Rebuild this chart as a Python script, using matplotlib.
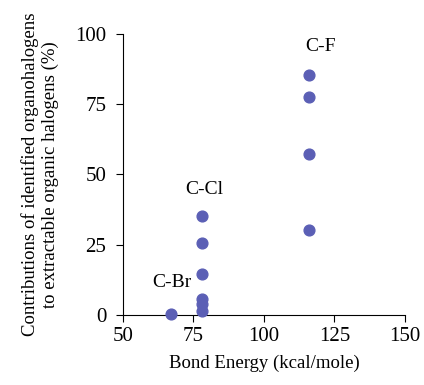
import matplotlib.pyplot as plt

plt.rcParams['font.family'] = ['Liberation Serif', 'DejaVu Serif']

# bond energies (kcal/mole) and contributions (%)
br_x = [67]
br_y = [0.3]
cl_x = [78, 78, 78, 78, 78, 78]
cl_y = [35.2, 25.6, 14.6, 5.6, 3.9, 1.4]
f_x = [116, 116, 116, 116]
f_y = [85.4, 77.5, 57.3, 30.2]

labels = ['C-Br', 'C-Cl', 'C-F']
label_pos = [(67.4, 11.7), (79, 44.5), (119.9, 95.4)]

fig = plt.figure(figsize=(4.24, 3.85), dpi=100)
ax = fig.add_axes([0.29, 0.182, 0.665, 0.73])

color = '#5b5fb5'
for xs, ys in [(br_x, br_y), (cl_x, cl_y), (f_x, f_y)]:
    ax.scatter(xs, ys, s=60, color=color, zorder=3, clip_on=False)

for lab, (lx, ly) in zip(labels, label_pos):
    ax.text(lx, ly, lab, ha='center', va='center', fontsize=14)

ax.set_xlim(50, 150)
ax.set_ylim(0, 100)
ax.set_xticks([50, 75, 100, 125, 150])
ax.set_yticks([0, 25, 50, 75, 100])
ax.tick_params(labelsize=15, direction='out', length=5)
ax.tick_params(axis='y', pad=7)
ax.tick_params(axis='x', pad=4)
ax.spines['top'].set_visible(False)
ax.spines['right'].set_visible(False)
ax.set_xlabel('Bond Energy (kcal/mole)', fontsize=13.5, labelpad=6)
ax.set_ylabel('Contributions of identified organohalogens\nto extractable organic halogens (%)',
              fontsize=13.5, labelpad=12, linespacing=1.2)

fig.savefig('out.png', dpi=100)
